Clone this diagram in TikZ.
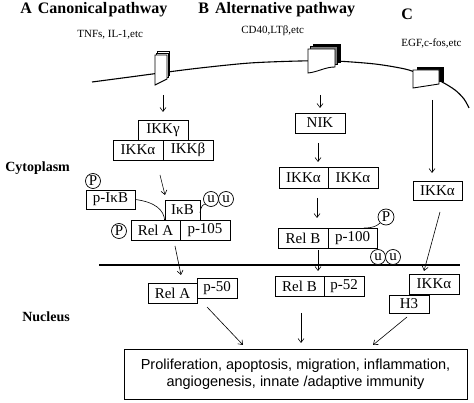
\documentclass[tikz,border=0pt]{standalone}
\usepackage{fontspec}
\setmainfont{Liberation Serif}
\newfontfamily\arialf{Liberation Sans}
\usetikzlibrary{arrows.meta}
\begin{document}
\begin{tikzpicture}[x=1pt,y=-1pt,
  line width=0.7pt,
  bx/.style={draw, rectangle, fill=white, inner sep=0pt, minimum height=20pt, font=\fontsize{15}{16}\selectfont},
  circ/.style={draw, circle, fill=white, inner sep=0pt, minimum size=15pt, font=\fontsize{15}{15}\selectfont},
  arr/.style={-{Straight Barb[length=4pt,width=6pt]}, line width=0.6pt},
  lnk/.style={line width=0.6pt},
  ttl/.style={font=\fontsize{16}{18}\selectfont\bfseries, inner sep=0pt, anchor=west},
  lbl/.style={font=\fontsize{14}{16}\selectfont\bfseries, inner sep=0pt, anchor=west},
  lig/.style={font=\fontsize{11}{12}\selectfont, inner sep=0pt, anchor=west}]
\useasboundingbox (0,0) rectangle (474,403);

% titles
\node[ttl] (tA) at (20,10) {A\hspace{6pt}Canonical\hspace{1.5pt}pathway};
\node[ttl] (tB) at (198,10) {B\hspace{6pt}Alternative pathway};
\node[ttl] (tC) at (401,14) {C};
\node[lig] (lA) at (77,35) {TNFs, IL-1,etc};
\node[lig] (lB) at (241,31) {CD40,LTβ,etc};
\node[lig] (lC) at (401,43) {EGF,c-fos,etc};
\node[lbl] (cyto) at (5,168) {Cytoplasm};
\node[lbl] (nuc) at (22,317) {Nucleus};

% cell membrane
\draw[line width=1.1pt] plot[smooth] coordinates {(92,82) (130,77) (160,73) (200,68) (250,63) (300,61) (335,61) (375,64) (405,69) (420,74) (440,81) (455,90) (464,99) (469,108)};

% receptor A
\draw[fill=white] (157.6,51.6) rectangle (169.6,75.6);
\draw[fill=white] (156.3,53.3) rectangle (168.3,77.3);
\draw[fill=white, line width=0.9pt] (155,55) -- (167,55) -- (167,79) -- (155,85) -- cycle;
% receptor B
\draw[fill=black] (313,44) rectangle (340,62);
\draw[fill=gray] (310.5,46.5) rectangle (337.5,64.5);
\draw[fill=white, line width=0.9pt] (308,49) -- (335,49) -- (335,67) .. controls (325,67) and (318,72) .. (308,73) -- cycle;
% receptor C
\draw[fill=black] (417,67) rectangle (443,81);
\draw[fill=white, line width=0.9pt] (413,70) -- (439,70) -- (439,84) -- (413,88) -- cycle;

% nuclear membrane
\coordinate (nm1) at (99,265);
\coordinate (nm2) at (460,265);
\draw[line width=1.1pt] (nm1) -- (nm2);

% ---- pathway A
\node[bx, minimum width=50pt] (ikkg) at (163,130) {IKKγ};
\node[bx, minimum width=50pt] (ikka) at (138,150) {IKKα};
\node[bx, minimum width=50pt] (ikkb) at (188,150) {IKKβ};
\node[bx, minimum width=49pt, minimum height=19pt] (pikb) at (110.5,199.5) {p-IκB};
\node[circ] (P1) at (93,181) {P};
\node[bx, minimum width=35pt] (ikb) at (182.5,210) {IκB};
\node[bx, minimum width=49pt] (rela) at (155.5,230) {Rel A};
\node[bx, minimum width=50pt] (p105) at (205,230) {p-105};
\node[circ] (P2) at (119,231) {P};
\node[circ] (u1) at (211,199) {u};
\node[circ] (u2) at (226,199) {u};
\draw[lnk] (pikb.east) .. controls (155,202) and (164,210) .. (ikb.south west);
\draw[lnk] (200,213) .. controls (201,206) and (203,204) .. (u1.south west);

\node[bx, minimum width=49pt] (relan) at (172.5,293) {Rel A};
\node[bx, minimum width=40pt] (p50) at (217,288) {p-50};

\coordinate (rA) at (163,95);
\coordinate (rAe) at (163,112);
\draw[arr] (rA) -- (rAe);
\coordinate (a2s) at (160,175);
\coordinate (a2e) at (165,195);
\draw[arr] (a2s) -- (a2e);
\coordinate (a3s) at (175,246);
\coordinate (a3e) at (181,275);
\draw[arr] (a3s) -- (a3e);

% ---- pathway B
\node[bx, minimum width=50pt] (nik) at (320,123) {NIK};
\node[bx, minimum width=49pt, minimum height=21pt] (ikka2) at (303.5,177.5) {IKKα};
\node[bx, minimum width=50pt, minimum height=21pt] (ikka3) at (353,177.5) {IKKα};
\node[bx, minimum width=50pt] (relb) at (303,238) {Rel B};
\node[bx, minimum width=49pt] (p100) at (352.5,238) {p-100};
\node[circ, minimum size=16pt] (P3) at (386,217) {P};
\node[circ] (u3) at (378,257) {u};
\node[circ] (u4) at (393,257) {u};
\draw[lnk] (364,228) .. controls (373,228) and (377,226) .. (P3.south west);
\node[bx, minimum width=49pt] (relbn) at (299.5,286) {Rel B};
\node[bx, minimum width=40pt] (p52) at (344,286) {p-52};

\coordinate (rB) at (320,95);
\coordinate (rBe) at (320,108);
\draw[arr] (rB) -- (rBe);
\draw[arr] (318,143) -- (318,162);
\draw[arr] (317,198) -- (317,218);
\draw[arr] (318,250) -- (318,271);

% ---- pathway C
\node[bx, minimum width=49pt, minimum height=19pt] (ikkac) at (437.5,190.5) {IKKα};
\node[bx, minimum width=50pt] (ikkacn) at (434,284) {IKKα};
\node[bx, minimum width=40pt, minimum height=18pt] (h3) at (409,304) {H3};
\coordinate (rC) at (432,100);
\coordinate (rCe) at (432,173);
\draw[arr] (rC) -- (rCe);
\coordinate (c2s) at (440,212);
\coordinate (c2e) at (424,271);
\draw[arr] (c2s) -- (c2e);

% ---- outcome
\node[draw, rectangle, minimum width=343pt, minimum height=50pt, inner sep=0pt, align=center,
  font=\arialf\fontsize{14.5}{17}\selectfont] (out) at (295.5,374)
  {Proliferation, apoptosis, migration, inflammation,\\angiogenesis, innate /adaptive immunity};
\coordinate (o1s) at (207,307);
\coordinate (o1e) at (243,345);
\coordinate (o2s) at (301,313);
\coordinate (o2e) at (301,343);
\coordinate (o3s) at (407,317);
\coordinate (o3e) at (373,345);
\draw[arr] (o1s) -- (o1e);
\draw[arr] (o2s) -- (o2e);
\draw[arr] (o3s) -- (o3e);
\end{tikzpicture}
\end{document}
